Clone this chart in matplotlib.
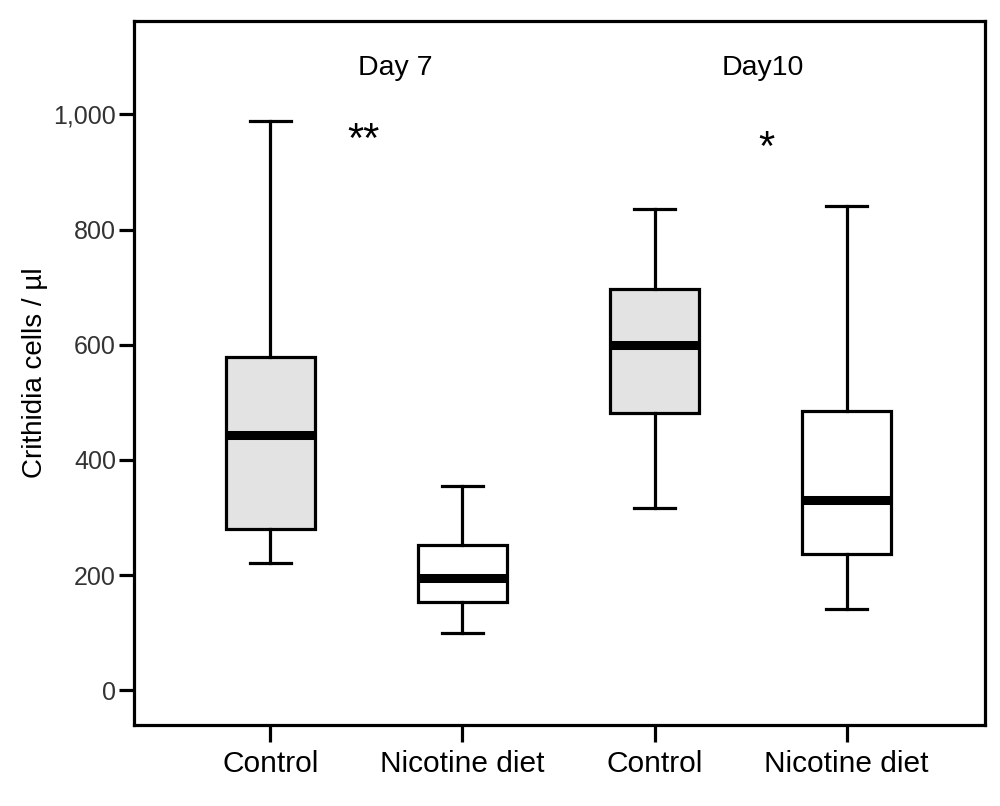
import matplotlib
matplotlib.use("Agg")
import matplotlib.pyplot as plt
from matplotlib.ticker import FuncFormatter

plt.rcParams['font.family'] = ['Liberation Sans', 'DejaVu Sans']

# valores (células / µl)
groups = ['Control', 'Nicotine diet', 'Control', 'Nicotine diet']
whisker_low = [221, 100, 317, 141]
q1 = [281, 154, 482, 237]
medians = [443, 196, 600, 331]
q3 = [578, 253, 697, 485]
whisker_high = [989, 355, 836, 841]
fills = ['#e3e3e3', 'white', '#e3e3e3', 'white']

day_labels = ['Day 7', 'Day10']
day_x = [1.65, 3.565]
stars = ['**', '*']
star_x = [1.487, 3.58]
star_y = [954, 939]

stats = []
for i in range(len(groups)):
    stats.append({'whislo': whisker_low[i], 'q1': q1[i], 'med': medians[i],
                  'q3': q3[i], 'whishi': whisker_high[i], 'fliers': [],
                  'label': groups[i]})

fig = plt.figure(figsize=(10, 8.06), dpi=100)
ax = fig.add_axes([0.134, 0.1005, 0.851, 0.8735])

positions = [1, 2, 3, 4]
bp = ax.bxp(stats, positions=positions, widths=0.465, capwidths=0.215,
            patch_artist=True, showfliers=False,
            boxprops=dict(linewidth=2.3, edgecolor='black'),
            whiskerprops=dict(linewidth=2.3, color='black'),
            capprops=dict(linewidth=2.3, color='black'),
            medianprops=dict(linewidth=6.5, color='black', solid_capstyle='butt'))
for patch, c in zip(bp['boxes'], fills):
    patch.set_facecolor(c)

ax.set_xlim(0.29, 4.72)
ax.set_ylim(-60, 1162)
ax.set_yticks([0, 200, 400, 600, 800, 1000])
ax.yaxis.set_major_formatter(FuncFormatter(lambda v, p: f'{v:,.0f}'))
ax.set_xticks(positions)
ax.set_xticklabels(groups, fontsize=21.5)

for s in ax.spines.values():
    s.set_linewidth(2.3)
ax.tick_params(axis='y', length=11, width=2.3, labelsize=18, labelcolor='#333333', pad=2)
ax.tick_params(axis='x', length=12, width=2.3, pad=6)

ax.set_ylabel('Crithidia cells / µl', fontsize=20, labelpad=4)

for lbl, x in zip(day_labels, day_x):
    ax.text(x, 1080, lbl, fontsize=20.5, ha='center', va='center')
for s, x, y in zip(stars, star_x, star_y):
    ax.text(x, y, s, fontsize=30, ha='center', va='center')

fig.savefig('out.png', dpi=100)
